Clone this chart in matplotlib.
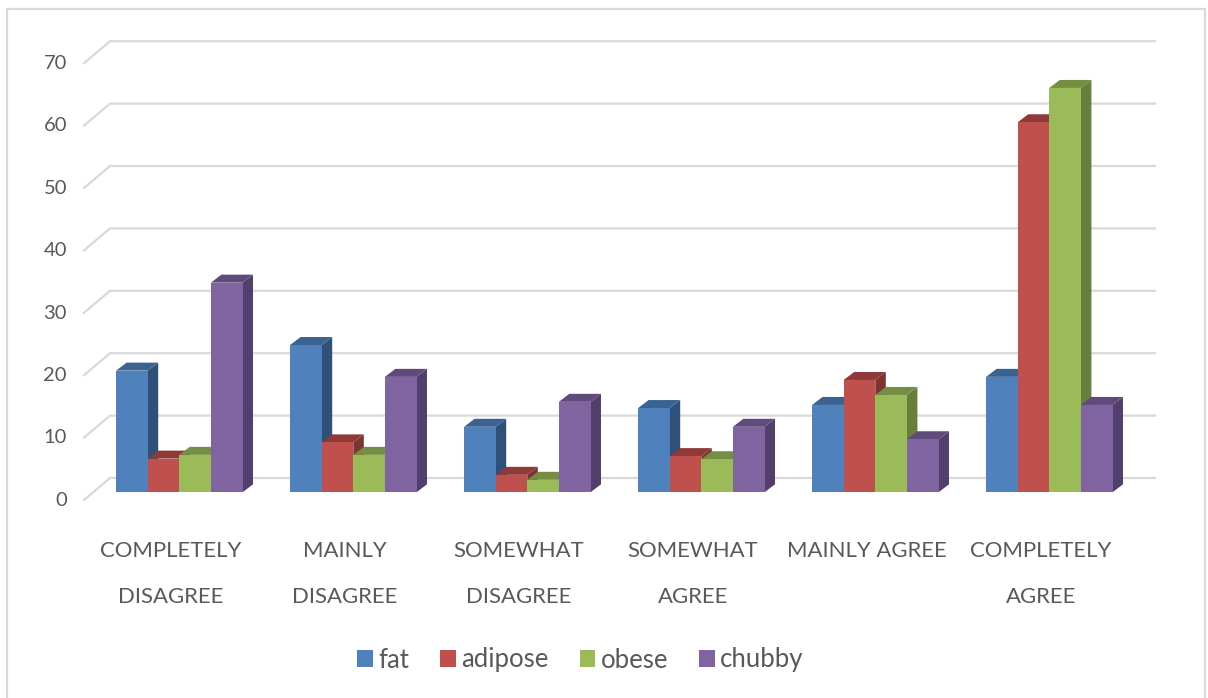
import numpy as np
import matplotlib
matplotlib.use("Agg")
import matplotlib.pyplot as plt
from matplotlib.patches import Polygon, Rectangle

plt.rcParams['font.family'] = ['Lato', 'DejaVu Sans']

# survey answers per word
categories = ["COMPLETELY\nDISAGREE", "MAINLY\nDISAGREE", "SOMEWHAT\nDISAGREE",
              "SOMEWHAT\nAGREE", "MAINLY AGREE", "COMPLETELY\nAGREE"]
series_names = ["fat", "adipose", "obese", "chubby"]
fat = [19.5, 23.6, 10.5, 13.5, 14, 18.5]
adipose = [5.4, 8, 2.8, 5.8, 18, 59.3]
obese = [6, 6, 2, 5.3, 15.6, 64.8]
chubby = [33.6, 18.5, 14.5, 10.5, 8.5, 14]
y_ticks = [0, 10, 20, 30, 40, 50, 60, 70]

front_cols = ["#4F81BD", "#C0504D", "#9BBB59", "#8064A2"]
side_cols = ["#2F5078", "#7E3331", "#667F3A", "#533F6E"]
top_cols = ["#3A6391", "#8F3A38", "#758E43", "#5F4A7B"]
text_col = "#595959"
grid_col = "#D9D9D9"

# axes placed so one category is 174 px and 10 units are 62.4 px
W, H = 1208, 698
ax_left, ax_right, ax_top, ax_bot = 84, 1155, 20, 510
px_x = 1 / 174
px_y = 10 / 62.4
base_px = 492.3

fig = plt.figure(figsize=(W / 100, H / 100), dpi=100)
ax = fig.add_axes([ax_left / W, 1 - ax_bot / H, (ax_right - ax_left) / W, (ax_bot - ax_top) / H])
x0 = -(179.3 - ax_left) * px_x
ax.set_xlim(x0, x0 + (ax_right - ax_left) * px_x)
ax.set_ylim((base_px - ax_bot) * px_y, (base_px - ax_top) * px_y)
ax.axis("off")

# frame round the whole chart
fig.add_artist(Rectangle((7 / W, -0.02), 1198 / W, 1.02 - 9 / H, transform=fig.transFigure,
                         fill=False, ec=grid_col, lw=1.6))

# back wall gridlines with the slanted part towards the ticks
wall_rise = 14.3 * px_y
tick_drop = 7.7 * px_y
for t in y_ticks:
    xs = [x0, x0 + 26 * px_x, x0 + (ax_right - ax_left) * px_x]
    ys = [t - tick_drop, t + wall_rise, t + wall_rise]
    ax.plot(xs, ys, color=grid_col, lw=1.6, zorder=1, clip_on=False)
    ax.text(x0 - 17 * px_x, t - 8 * px_y, str(t), ha="right", va="center", fontsize=14.5,
            color=text_col)

bar_w = 31.6 * px_x
dx = 10.5 * px_x
dy = 8 * px_y
x = np.arange(len(categories))
all_series = [fat, adipose, obese, chubby]
handles = []
for i, vals in enumerate(all_series):
    pos = x + (i - 1.5) * bar_w
    z = 3 + i
    bars = ax.bar(pos, vals, bar_w, color=front_cols[i], zorder=z + 0.5, label=series_names[i])
    handles.append(bars)
    for p, v in zip(pos, vals):
        l, r = p - bar_w / 2, p + bar_w / 2
        ax.add_patch(Polygon([(r, 0), (r + dx, dy), (r + dx, v + dy), (r, v)], color=side_cols[i], lw=0, zorder=z))
        ax.add_patch(Polygon([(l, v), (l + dx, v + dy), (r + dx, v + dy), (r, v)], color=top_cols[i], lw=0, zorder=z))

# category labels, slightly left of the bar groups
for xi, name in zip(x, categories):
    ax.text(xi - 8.3 * px_x, -(541 - base_px) * px_y, name, ha="center", va="top", fontsize=15.9,
            color=text_col, linespacing=2.6, clip_on=False)

leg = fig.legend(handles=handles, loc="center", bbox_to_anchor=(580.5 / W, 1 - 660 / H), ncols=4,
                 frameon=False, fontsize=18.5, handlelength=0.62, handleheight=0.62,
                 handletextpad=0.2, columnspacing=1.2, labelcolor=text_col)

fig.savefig("out.png", dpi=100)
